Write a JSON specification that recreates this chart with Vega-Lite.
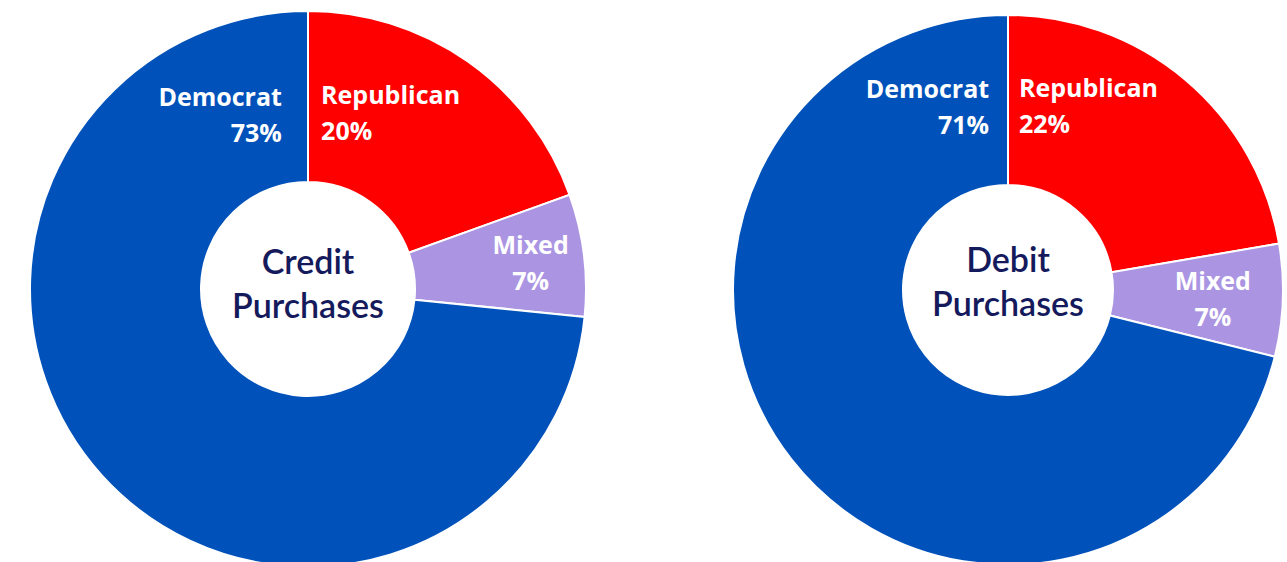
{
  "$schema": "https://vega.github.io/schema/vega-lite/v6.json",
  "padding": 0,
  "spacing": 113,
  "config": {"view": {"stroke": null}},
  "datasets": {
    "credit": [
      {"party": "Republican", "share": 19.5},
      {"party": "Mixed", "share": 7.1},
      {"party": "Democrat", "share": 73.4}
    ],
    "debit": [
      {"party": "Republican", "share": 22.3},
      {"party": "Mixed", "share": 6.6},
      {"party": "Democrat", "share": 71.1}
    ]
  },
  "hconcat": [
    {
      "width": 616,
      "height": 578,
      "layer": [
        {
          "data": {"name": "credit"},
          "transform": [{"calculate": "[datum.party, format(datum.share, '.0f') + '%']", "as": "lbl"}],
          "layer": [
            {
              "mark": {"type": "arc", "outerRadius": 278, "innerRadius": 107, "stroke": "white", "strokeWidth": 2},
              "encoding": {
                "theta": {"field": "share", "type": "quantitative", "stack": true},
                "order": {"field": "party", "sort": "descending"},
                "color": {"field": "party", "type": "nominal", "legend": null,
                  "scale": {"domain": ["Democrat", "Republican", "Mixed"], "range": ["#0052BA", "#FF0000", "#AB95E2"]}}
              }
            },
            {
              "mark": {"type": "text", "radius": 175, "thetaOffset": 2.156, "dy": -18, "align": "right", "baseline": "middle", "font": "Open Sans", "fontWeight": "bold", "fontSize": 25, "lineHeight": 36, "color": "white"},
              "encoding": {
                "theta": {"field": "share", "type": "quantitative", "stack": true},
                "order": {"field": "party", "sort": "descending"},
                "text": {"condition": {"test": "datum.party === 'Democrat'", "field": "lbl"}, "value": ""}
              }
            },
            {
              "mark": {"type": "text", "radius": 175.5, "thetaOffset": -0.538, "dy": -18, "align": "left", "baseline": "middle", "font": "Open Sans", "fontWeight": "bold", "fontSize": 25, "lineHeight": 36, "color": "white"},
              "encoding": {
                "theta": {"field": "share", "type": "quantitative", "stack": true},
                "order": {"field": "party", "sort": "descending"},
                "text": {"condition": {"test": "datum.party === 'Republican'", "field": "lbl"}, "value": ""}
              }
            },
            {
              "mark": {"type": "text", "radius": 224, "thetaOffset": 0.010, "dy": -18, "align": "center", "baseline": "middle", "font": "Open Sans", "fontWeight": "bold", "fontSize": 25, "lineHeight": 36, "color": "white"},
              "encoding": {
                "theta": {"field": "share", "type": "quantitative", "stack": true},
                "order": {"field": "party", "sort": "descending"},
                "text": {"condition": {"test": "datum.party === 'Mixed'", "field": "lbl"}, "value": ""}
              }
            }
          ]
        },
        {
          "data": {"values": [{"t": ["Credit", "Purchases"]}]},
          "mark": {"type": "text", "align": "center", "baseline": "middle", "dy": -25, "font": "Lato", "fontWeight": 600, "fontSize": 34, "lineHeight": 44, "color": "#141A5C"},
          "encoding": {"text": {"field": "t"}}
        }
      ]
    },
    {
      "width": 550,
      "height": 580,
      "layer": [
        {
          "data": {"name": "debit"},
          "transform": [{"calculate": "[datum.party, format(datum.share, '.0f') + '%']", "as": "lbl"}],
          "layer": [
            {
              "mark": {"type": "arc", "outerRadius": 275, "innerRadius": 105, "stroke": "white", "strokeWidth": 2},
              "encoding": {
                "theta": {"field": "share", "type": "quantitative", "stack": true},
                "order": {"field": "party", "sort": "descending"},
                "color": {"field": "party", "type": "nominal", "legend": null,
                  "scale": {"domain": ["Democrat", "Republican", "Mixed"], "range": ["#0052BA", "#FF0000", "#AB95E2"]}}
              }
            },
            {
              "mark": {"type": "text", "radius": 184, "thetaOffset": 2.131, "dy": -17, "align": "right", "baseline": "middle", "font": "Open Sans", "fontWeight": "bold", "fontSize": 25, "lineHeight": 36, "color": "white"},
              "encoding": {
                "theta": {"field": "share", "type": "quantitative", "stack": true},
                "order": {"field": "party", "sort": "descending"},
                "text": {"condition": {"test": "datum.party === 'Democrat'", "field": "lbl"}, "value": ""}
              }
            },
            {
              "mark": {"type": "text", "radius": 184.3, "thetaOffset": -0.641, "dy": -17, "align": "left", "baseline": "middle", "font": "Open Sans", "fontWeight": "bold", "fontSize": 25, "lineHeight": 36, "color": "white"},
              "encoding": {
                "theta": {"field": "share", "type": "quantitative", "stack": true},
                "order": {"field": "party", "sort": "descending"},
                "text": {"condition": {"test": "datum.party === 'Republican'", "field": "lbl"}, "value": ""}
              }
            },
            {
              "mark": {"type": "text", "radius": 205, "thetaOffset": 0.006, "dy": -17, "align": "center", "baseline": "middle", "font": "Open Sans", "fontWeight": "bold", "fontSize": 25, "lineHeight": 36, "color": "white"},
              "encoding": {
                "theta": {"field": "share", "type": "quantitative", "stack": true},
                "order": {"field": "party", "sort": "descending"},
                "text": {"condition": {"test": "datum.party === 'Mixed'", "field": "lbl"}, "value": ""}
              }
            }
          ]
        },
        {
          "data": {"values": [{"t": ["Debit", "Purchases"]}]},
          "mark": {"type": "text", "align": "center", "baseline": "middle", "dy": -28, "font": "Lato", "fontWeight": 600, "fontSize": 34, "lineHeight": 44, "color": "#141A5C"},
          "encoding": {"text": {"field": "t"}}
        }
      ]
    }
  ]
}
